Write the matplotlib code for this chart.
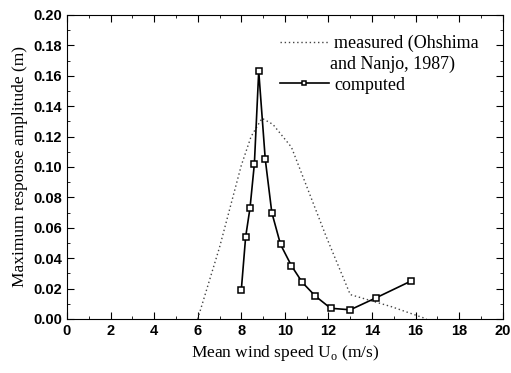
import matplotlib
matplotlib.use("Agg")
import matplotlib.pyplot as plt
from matplotlib.ticker import MultipleLocator
from matplotlib.lines import Line2D

# measured curve (Ohshima and Nanjo, 1987)
meas_u = [6.0, 7.0, 8.0, 8.45, 8.95, 9.45, 10.3, 11.9, 13.0, 14.9, 16.5]
meas_a = [0.0, 0.047, 0.101, 0.120, 0.132, 0.128, 0.113, 0.054, 0.016, 0.008, 0.0]

# computed
comp_u = [8.0, 8.2, 8.4, 8.6, 8.8, 9.1, 9.4, 9.8, 10.3, 10.8, 11.4, 12.1, 13.0, 14.2, 15.8]
comp_a = [0.019, 0.054, 0.073, 0.102, 0.163, 0.105, 0.070, 0.049, 0.035, 0.024, 0.015, 0.007, 0.006, 0.014, 0.025]

legend_labels = ['measured (Ohshima', 'and Nanjo, 1987)', 'computed']

plt.rcParams['font.family'] = 'Liberation Serif'

fig = plt.figure(figsize=(5.11, 3.73), dpi=100)
ax = fig.add_axes([0.131, 0.145, 0.853, 0.815])

l1, = ax.plot(meas_u, meas_a, linestyle=(0, (1, 2)), color='#444444', lw=1.0)
l2, = ax.plot(comp_u, comp_a, '-s', color='black', lw=1.2, ms=4.8,
              markerfacecolor='white', markeredgewidth=1.1)
blank = Line2D([], [], color='none')

ax.set_xlim(0, 20)
ax.set_ylim(0, 0.20)
ax.xaxis.set_major_locator(MultipleLocator(2))
ax.xaxis.set_minor_locator(MultipleLocator(1))
ax.yaxis.set_major_locator(MultipleLocator(0.02))
ax.yaxis.set_minor_locator(MultipleLocator(0.01))
ax.yaxis.set_major_formatter(matplotlib.ticker.FormatStrFormatter('%.2f'))
ax.tick_params(which='both', direction='in', top=True, right=True)
ax.tick_params(which='major', length=5)
ax.tick_params(which='minor', length=2.5)
for t in ax.get_xticklabels() + ax.get_yticklabels():
    t.set_fontfamily('Liberation Sans')
    t.set_fontweight('bold')
    t.set_fontsize(10.5)

ax.set_xlabel('Mean wind speed U$_\\mathregular{o}$ (m/s)', fontsize=12.5)
ax.set_ylabel('Maximum response amplitude (m)', fontsize=12.5)

leg = ax.legend([l1, blank, l2], legend_labels, loc='upper left', frameon=False,
                fontsize=13, handlelength=2.7, handletextpad=0.3,
                labelspacing=0.2, borderpad=0, borderaxespad=0,
                markerscale=0.75, bbox_to_anchor=(0.489, 0.935))
leg.get_texts()[1].set_x(-4)

fig.savefig('out.png', dpi=100)
